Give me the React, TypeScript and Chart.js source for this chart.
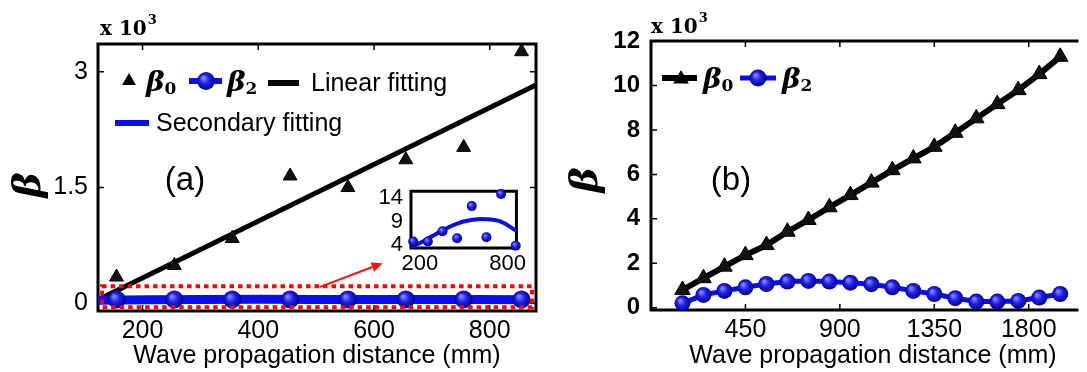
import React, { useEffect, useRef } from 'react';
import { Chart, registerables } from 'chart.js';

Chart.register(...registerables);

// ---------------- Panel (a) ----------------
const distanceA = [155, 255, 355, 455, 555, 655, 755, 855];
const beta0A = [0.34, 0.49, 0.84, 1.65, 1.5, 1.86, 2.02, 3.26];
const beta2A = [0.05, 0.05, 0.05, 0.05, 0.05, 0.05, 0.05, 0.05];
const linearFitDistA = [123, 880];
const linearFitA = [0.045, 2.83];
const secondaryFitDistA = [123, 300, 500, 700, 855];
const secondaryFitA = [0.04, 0.05, 0.05, 0.05, 0.045];
const xTicksA = [200, 400, 600, 800];
const yTicksA = [0, 1.5, 3];

// ---------------- Inset of (a) ----------------
const distanceInset = [155, 255, 355, 455, 555, 655, 755, 855];
const beta2Inset = [4.7, 4.7, 6.9, 5.4, 12.3, 5.6, 14.9, 3.8];
const secondaryFitDistInset = [140, 250, 350, 450, 550, 650, 750, 860];
const secondaryFitInset = [3.4, 5.2, 7.0, 8.5, 9.3, 9.5, 9.0, 7.0];
const xTicksInset = [200, 800];
const yTicksInset = [4, 9, 14];

// ---------------- Panel (b) ----------------
const distanceB = [150, 250, 350, 450, 550, 650, 750, 850, 950, 1050, 1150, 1250, 1350, 1450, 1550, 1650, 1750, 1850, 1950];
const beta0B = [0.8, 1.33, 1.85, 2.37, 2.82, 3.42, 3.95, 4.52, 5.07, 5.63, 6.19, 6.72, 7.24, 7.87, 8.52, 9.16, 9.79, 10.51, 11.29];
const beta2B = [0.2, 0.58, 0.76, 0.92, 1.07, 1.18, 1.21, 1.18, 1.13, 1.06, 0.92, 0.76, 0.62, 0.43, 0.28, 0.28, 0.31, 0.46, 0.62];
const xTicksB = [450, 900, 1350, 1800];
const yTicksB = [0, 2, 4, 6, 8, 10, 12];

// zoom-region marker in (a), in data units
const zoomBoxA = { x0: 130, x1: 873, y0: -0.05, y1: 0.22 };
const arrowA = { x0: 506, y0: 0.21, x1: 615, y1: 0.52 };

const SANS = '"Liberation Sans", Arial, sans-serif';
const SERIF = '"DejaVu Serif", serif';
const BLUE = '#0c0cf0';

const pts = (xs: number[], ys: number[]) => xs.map((x, i) => ({ x, y: ys[i] }));

function ballGradient(ctx: CanvasRenderingContext2D, x: number, y: number, r: number) {
  const g = ctx.createRadialGradient(x - r * 0.3, y - r * 0.35, r * 0.1, x, y, r * 1.05);
  g.addColorStop(0, '#8080ff');
  g.addColorStop(0.45, '#2020e6');
  g.addColorStop(1, '#00008a');
  return g;
}

const ballColor = (r: number) => (c: any) => {
  const chart = c.chart;
  const p = c.parsed;
  if (!p || c.type !== 'data' || !chart.scales.x || !chart.scales.y) return '#1a1ad8';
  const px = chart.scales.x.getPixelForValue(p.x);
  const py = chart.scales.y.getPixelForValue(p.y);
  if (!isFinite(px) || !isFinite(py)) return '#1a1ad8';
  return ballGradient(chart.ctx, px, py, r);
};

function drawBall(ctx: CanvasRenderingContext2D, x: number, y: number, r: number) {
  ctx.beginPath();
  ctx.arc(x, y, r, 0, Math.PI * 2);
  ctx.fillStyle = ballGradient(ctx, x, y, r);
  ctx.fill();
}

function drawTri(ctx: CanvasRenderingContext2D, x: number, y: number, r: number) {
  ctx.beginPath();
  let a = 0;
  ctx.moveTo(x + Math.sin(a) * r, y - Math.cos(a) * r);
  a += (2 * Math.PI) / 3;
  ctx.lineTo(x + Math.sin(a) * r, y - Math.cos(a) * r);
  a += (2 * Math.PI) / 3;
  ctx.lineTo(x + Math.sin(a) * r, y - Math.cos(a) * r);
  ctx.closePath();
  ctx.fillStyle = '#000';
  ctx.fill();
}

function seg(ctx: CanvasRenderingContext2D, x0: number, x1: number, y: number, w: number, color: string) {
  ctx.beginPath();
  ctx.moveTo(x0, y);
  ctx.lineTo(x1, y);
  ctx.lineWidth = w;
  ctx.strokeStyle = color;
  ctx.lineCap = 'butt';
  ctx.stroke();
}

function betaLabel(ctx: CanvasRenderingContext2D, x: number, baseline: number, sub: string) {
  ctx.fillStyle = '#000';
  ctx.textAlign = 'left';
  ctx.textBaseline = 'alphabetic';
  ctx.font = `italic bold 28px ${SERIF}`;
  ctx.fillText('β', x, baseline);
  const w = ctx.measureText('β').width;
  ctx.font = `bold 17px ${SERIF}`;
  ctx.fillText(sub, x + w, baseline + 3);
}

function times10(ctx: CanvasRenderingContext2D, x: number, baseline: number) {
  ctx.fillStyle = '#000';
  ctx.textAlign = 'left';
  ctx.textBaseline = 'alphabetic';
  ctx.font = `bold 20px ${SERIF}`;
  ctx.fillText('x 10', x, baseline);
  const w = ctx.measureText('x 10').width;
  ctx.font = `bold 13px ${SERIF}`;
  ctx.fillText('3', x + w + 1, baseline - 11);
}

function yTitle(ctx: CanvasRenderingContext2D, x: number, y: number) {
  ctx.save();
  ctx.translate(x, y);
  ctx.rotate(-Math.PI / 2);
  ctx.fillStyle = '#000';
  ctx.textAlign = 'center';
  ctx.textBaseline = 'middle';
  ctx.font = `italic bold 38px ${SERIF}`;
  ctx.fillText('β', 0, 0);
  ctx.restore();
}

function centerText(ctx: CanvasRenderingContext2D, text: string, x: number, baseline: number, font: string) {
  ctx.fillStyle = '#000';
  ctx.textAlign = 'center';
  ctx.textBaseline = 'alphabetic';
  ctx.font = font;
  ctx.fillText(text, x, baseline);
}

function framePlugin(sides: any, xt: number[], yt: number[], tick: number, lw: number, fillWhite = false) {
  return {
    id: 'frame',
    beforeDatasetsDraw(chart: any) {
      const { ctx, chartArea: a, scales } = chart;
      ctx.save();
      if (fillWhite) {
        ctx.fillStyle = '#fff';
        ctx.fillRect(a.left, a.top, a.right - a.left, a.bottom - a.top);
      }
      ctx.strokeStyle = '#000';
      ctx.lineWidth = lw;
      ctx.lineCap = 'square';
      ctx.beginPath();
      if (sides.top) { ctx.moveTo(a.left, a.top); ctx.lineTo(a.right, a.top); }
      if (sides.right) { ctx.moveTo(a.right, a.top); ctx.lineTo(a.right, a.bottom); }
      if (sides.bottom) { ctx.moveTo(a.left, a.bottom); ctx.lineTo(a.right, a.bottom); }
      if (sides.left) { ctx.moveTo(a.left, a.top); ctx.lineTo(a.left, a.bottom); }
      ctx.stroke();
      if (tick > 0) {
        ctx.lineWidth = 1.5;
        ctx.lineCap = 'butt';
        ctx.beginPath();
        xt.forEach((v) => {
          const px = scales.x.getPixelForValue(v);
          ctx.moveTo(px, a.bottom); ctx.lineTo(px, a.bottom - tick);
          if (sides.top) { ctx.moveTo(px, a.top); ctx.lineTo(px, a.top + tick); }
        });
        yt.forEach((v) => {
          const py = scales.y.getPixelForValue(v);
          ctx.moveTo(a.left, py); ctx.lineTo(a.left + tick, py);
          if (sides.right) { ctx.moveTo(a.right, py); ctx.lineTo(a.right - tick, py); }
        });
        ctx.stroke();
      }
      ctx.restore();
    },
  };
}

function axis(min: number, max: number, ticks: number[], font: any, padding: number, fit: (s: any) => void) {
  return {
    type: 'linear',
    min,
    max,
    grid: { display: false, drawTicks: false },
    border: { display: false },
    afterBuildTicks: (s: any) => { s.ticks = ticks.map((v) => ({ value: v })); },
    afterFit: fit,
    ticks: { font, color: '#000', padding, maxRotation: 0, autoSkip: false, callback: (v: any) => String(v) },
  };
}

const baseOpts = {
  responsive: false,
  animation: false,
  devicePixelRatio: 1,
  events: [],
};

function makeA(canvas: HTMLCanvasElement) {
  const extrasBelow = {
    id: 'extrasA1',
    afterDatasetsDraw(chart: any) {
      const { ctx, scales } = chart;
      const X = (v: number) => scales.x.getPixelForValue(v);
      const Y = (v: number) => scales.y.getPixelForValue(v);
      ctx.save();
      ctx.strokeStyle = '#ff0000';
      ctx.lineWidth = 4;
      ctx.setLineDash([4.5, 4]);
      ctx.strokeRect(X(zoomBoxA.x0), Y(zoomBoxA.y1), X(zoomBoxA.x1) - X(zoomBoxA.x0), Y(zoomBoxA.y0) - Y(zoomBoxA.y1));
      ctx.setLineDash([]);
      const x0 = X(arrowA.x0), y0 = Y(arrowA.y0), x1 = X(arrowA.x1), y1 = Y(arrowA.y1);
      const ang = Math.atan2(y1 - y0, x1 - x0);
      const hl = 11, hw = 5;
      ctx.strokeStyle = '#ff1010';
      ctx.lineWidth = 2;
      ctx.beginPath();
      ctx.moveTo(x0, y0);
      ctx.lineTo(x1 - Math.cos(ang) * hl, y1 - Math.sin(ang) * hl);
      ctx.stroke();
      ctx.fillStyle = '#ff1010';
      ctx.beginPath();
      ctx.moveTo(x1, y1);
      ctx.lineTo(x1 - Math.cos(ang) * hl - Math.sin(ang) * hw, y1 - Math.sin(ang) * hl + Math.cos(ang) * hw);
      ctx.lineTo(x1 - Math.cos(ang) * hl + Math.sin(ang) * hw, y1 - Math.sin(ang) * hl - Math.cos(ang) * hw);
      ctx.closePath();
      ctx.fill();
      ctx.restore();
    },
  };
  const extrasTop = {
    id: 'extrasA2',
    afterDraw(chart: any) {
      const ctx = chart.ctx as CanvasRenderingContext2D;
      ctx.save();
      times10(ctx, 100, 35);
      yTitle(ctx, 30, 185);
      centerText(ctx, 'Wave propagation distance (mm)', 317, 363, `25px ${SANS}`);
      centerText(ctx, '(a)', 185, 190, `33px ${SANS}`);
      drawTri(ctx, 129, 81, 8);
      betaLabel(ctx, 146, 91, '0');
      seg(ctx, 189, 222, 81, 6, BLUE);
      drawBall(ctx, 206, 81, 9);
      betaLabel(ctx, 227, 91, '2');
      seg(ctx, 268, 299, 83, 6, '#000');
      ctx.fillStyle = '#000';
      ctx.textAlign = 'left';
      ctx.textBaseline = 'alphabetic';
      ctx.font = `25px ${SANS}`;
      ctx.fillText('Linear fitting', 311, 91);
      seg(ctx, 115, 149, 123, 6, BLUE);
      ctx.fillStyle = '#000';
      ctx.font = `25px ${SANS}`;
      ctx.fillText('Secondary fitting', 156, 131);
      ctx.restore();
    },
  };
  const tickFont = { family: SANS, size: 25 };
  return new Chart(canvas, {
    type: 'scatter',
    data: {
      datasets: [
        {
          label: 'β2',
          data: pts(distanceA, beta2A),
          showLine: false,
          pointStyle: 'circle',
          pointRadius: 9,
          pointBorderWidth: 0,
          pointBackgroundColor: ballColor(9),
          clip: false,
        },
        {
          label: 'β0',
          data: pts(distanceA, beta0A),
          showLine: false,
          pointStyle: 'triangle',
          pointRadius: 8,
          pointBorderWidth: 1,
          pointBorderColor: '#000',
          pointBackgroundColor: '#111',
          clip: false,
        },
        {
          label: 'Secondary fitting',
          data: pts(secondaryFitDistA, secondaryFitA),
          showLine: true,
          borderColor: BLUE,
          borderWidth: 9,
          pointRadius: 0,
          tension: 0.4,
        },
        {
          label: 'Linear fitting',
          data: pts(linearFitDistA, linearFitA),
          showLine: true,
          borderColor: '#000',
          borderWidth: 5,
          pointRadius: 0,
        },
      ],
    },
    options: {
      ...baseOpts,
      layout: { padding: { top: 44, right: 5, left: 0, bottom: 0 } },
      plugins: { legend: { display: false }, tooltip: { enabled: false } },
      scales: {
        x: axis(123, 880, xTicksA, tickFont, 5, (s: any) => { s.height = 61; }),
        y: axis(-0.1, 3.36, yTicksA, tickFont, 10, (s: any) => { s.width = 98; }),
      },
    } as any,
    plugins: [framePlugin({ top: true, right: true, bottom: true, left: true }, xTicksA, yTicksA, 6, 3), extrasBelow, extrasTop],
  } as any);
}

function makeInset(canvas: HTMLCanvasElement) {
  const tickFont = { family: SANS, size: 22 };
  return new Chart(canvas, {
    type: 'scatter',
    data: {
      datasets: [
        {
          label: 'β2',
          data: pts(distanceInset, beta2Inset),
          showLine: false,
          pointStyle: 'circle',
          pointRadius: 5,
          pointBorderWidth: 0,
          pointBackgroundColor: ballColor(5),
          clip: false,
        },
        {
          label: 'Secondary fitting',
          data: pts(secondaryFitDistInset, secondaryFitInset),
          showLine: true,
          borderColor: BLUE,
          borderWidth: 4,
          pointRadius: 0,
          tension: 0.4,
        },
      ],
    },
    options: {
      ...baseOpts,
      layout: { padding: { top: 12, right: 12, left: 0, bottom: 0 } },
      plugins: { legend: { display: false }, tooltip: { enabled: false } },
      scales: {
        x: axis(140, 860, xTicksInset, tickFont, 3, (s: any) => { s.height = 32; }),
        y: axis(3.3, 15.5, yTicksInset, tickFont, 8, (s: any) => { s.width = 41; }),
      },
    } as any,
    plugins: [framePlugin({ top: true, right: true, bottom: true, left: true }, [], [], 0, 3, true)],
  } as any);
}

function makeB(canvas: HTMLCanvasElement) {
  const extrasTop = {
    id: 'extrasB',
    afterDraw(chart: any) {
      const ctx = chart.ctx as CanvasRenderingContext2D;
      ctx.save();
      times10(ctx, 106, 33);
      yTitle(ctx, 42, 180);
      centerText(ctx, 'Wave propagation distance (mm)', 328, 363, `25px ${SANS}`);
      centerText(ctx, '(b)', 186, 190, `33px ${SANS}`);
      seg(ctx, 117, 152, 78, 6, '#000');
      drawTri(ctx, 136, 79, 9);
      betaLabel(ctx, 158, 88, '0');
      seg(ctx, 195, 231, 78, 5, BLUE);
      drawBall(ctx, 213, 78, 8.5);
      betaLabel(ctx, 237, 88, '2');
      ctx.restore();
    },
  };
  const tickFont = { family: SANS, size: 25 };
  const yFont = { family: SANS, size: 24, weight: 'bold' };
  return new Chart(canvas, {
    type: 'scatter',
    data: {
      datasets: [
        {
          label: 'β0',
          data: pts(distanceB, beta0B),
          showLine: true,
          borderColor: '#000',
          borderWidth: 6,
          pointStyle: 'triangle',
          pointRadius: 9,
          pointBorderWidth: 1,
          pointBorderColor: '#000',
          pointBackgroundColor: '#111',
          clip: false,
        },
        {
          label: 'β2',
          data: pts(distanceB, beta2B),
          showLine: true,
          borderColor: BLUE,
          borderWidth: 5,
          pointStyle: 'circle',
          pointRadius: 8,
          pointBorderWidth: 0,
          pointBackgroundColor: ballColor(8),
          clip: false,
        },
      ],
    },
    options: {
      ...baseOpts,
      layout: { padding: { top: 41, right: 0, left: 0, bottom: 0 } },
      plugins: { legend: { display: false }, tooltip: { enabled: false } },
      scales: {
        x: axis(0, 2030, xTicksB, tickFont, 5, (s: any) => { s.height = 62; }),
        y: axis(-0.1, 12, yTicksB, yFont, 11, (s: any) => { s.width = 106; }),
      },
    } as any,
    plugins: [framePlugin({ top: true, right: false, bottom: true, left: true }, xTicksB, yTicksB, 6, 3), extrasTop],
  } as any);
}

export default function App() {
  const refA = useRef<HTMLCanvasElement>(null);
  const refInset = useRef<HTMLCanvasElement>(null);
  const refB = useRef<HTMLCanvasElement>(null);

  useEffect(() => {
    document.body.style.margin = '0';
    const charts: any[] = [];
    if (refA.current) charts.push(makeA(refA.current));
    if (refInset.current) charts.push(makeInset(refInset.current));
    if (refB.current) charts.push(makeB(refB.current));
    return () => charts.forEach((c) => c.destroy());
  }, []);

  return (
    <div style={{ position: 'relative', width: 1087, height: 372, background: '#fff', overflow: 'hidden' }}>
      <canvas ref={refA} width={545} height={372} style={{ position: 'absolute', left: 0, top: 0 }} />
      <canvas ref={refInset} width={160} height={110} style={{ position: 'absolute', left: 370, top: 170 }} />
      <canvas ref={refB} width={542} height={372} style={{ position: 'absolute', left: 545, top: 0 }} />
    </div>
  );
}
